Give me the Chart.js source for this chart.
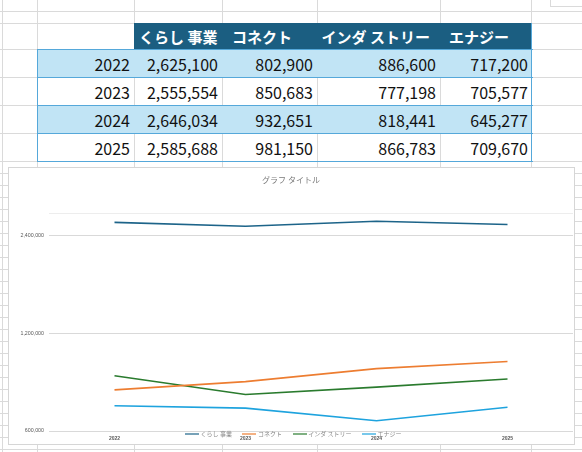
<!DOCTYPE html>
<html><head><meta charset="utf-8">
<script src="https://cdn.jsdelivr.net/npm/chart.js@4"></script>
<style>
html,body{margin:0;padding:0;background:#fff;}
#page{position:relative;width:582px;height:452px;overflow:hidden;background:#fff;font-family:"Noto Sans CJK JP","Noto Sans",sans-serif;}
.gl{position:absolute;background:#dadada;}
.fill{position:absolute;}
.bd{position:absolute;background:#55a8da;}
.cell{position:absolute;display:flex;align-items:center;box-sizing:border-box;white-space:nowrap;}
.num{justify-content:flex-end;padding-right:4px;font-size:16px;color:#111;}
.hdr{justify-content:flex-start;font-size:15px;font-weight:700;color:#fff;}
#chartBox{position:absolute;left:8px;top:167px;width:567px;height:278px;box-sizing:border-box;border:1px solid #d6d6d6;background:#fff;}
#chartBox canvas{position:absolute;left:0;top:0;}
#legend{position:absolute;left:185px;top:429px;height:9px;display:flex;align-items:center;gap:10.5px;font-size:6px;color:#8a8a8a;white-space:nowrap;}
#legend .it{display:flex;align-items:center;}
#legend .ln{display:inline-block;width:14px;height:2px;margin-right:1.6px;opacity:0.6;}
</style></head>
<body><div id="page">
<div id="sheet"></div>
<div id="chartBox"><canvas id="c" width="565" height="276"></canvas></div>
<div id="legend"></div>
</div>
<script>
// ---- data ----
const categories = ['2022', '2023', '2024', '2025'];
const seriesNames = ['くらし 事業', 'コネクト', 'インダ ストリー', 'エナジー'];
const kurashi = [2625100, 2555554, 2646034, 2585688];
const connect = [802900, 850683, 932651, 981150];
const industry = [886600, 777198, 818441, 866783];
const energy = [717200, 705577, 645277, 709670];
const yTicks = [600000, 1200000, 2400000];
const yMin = 600000;
const yMax = 2800000;
const chartTitle = 'グラフ タイトル';

// ---- styles ----
const seriesColors = ['#1d6489', '#ed7d31', '#2a7b2e', '#1ea3de'];
const seriesValues = [kurashi, connect, industry, energy];

// ---- spreadsheet background ----
const sheet = document.getElementById('sheet');
function div(cls, l, t, w, h, extra) {
  const d = document.createElement('div');
  d.className = cls;
  d.style.left = l + 'px'; d.style.top = t + 'px';
  d.style.width = w + 'px'; d.style.height = h + 'px';
  if (extra) Object.assign(d.style, extra);
  sheet.appendChild(d);
  return d;
}
const colX = [2, 37, 134, 222, 317, 440, 531];
const rowY = [11, 23, 49, 77, 105, 133, 161];
for (let y = 173; y < 452; y += 12) rowY.push(y);
colX.forEach(x => div('gl', x, 0, 1, 452));
rowY.forEach(y => div('gl', 0, y, 582, 1));
// object edge at top right
div('gl', 550, 0, 1, 6); div('gl', 550, 6, 32, 1);

// table
const tLeft = 37, tRight = 532, hdrTop = 23, bodyTop = 49, rowH = 28;
div('fill', 134, hdrTop, tRight - 134, bodyTop - hdrTop, {background: '#1b5e81'});
const hdrPad = [5, 10, 4.5, 9];
seriesNames.forEach((n, i) => {
  const d = div('cell hdr', colX[i + 2], hdrTop, colX[i + 3] - colX[i + 2] + 40, bodyTop - hdrTop, {paddingLeft: hdrPad[i] + 'px'});
  d.textContent = n;
});
categories.forEach((c, r) => {
  const top = bodyTop + r * rowH;
  if (r % 2 === 0) div('fill', tLeft, top, tRight - tLeft, rowH, {background: '#c1e4f5'});
});
categories.forEach((c, r) => {
  const top = bodyTop + r * rowH;
  const vals = [c].concat(seriesValues.map(s => s[r].toLocaleString('en-US')));
  vals.forEach((v, j) => {
    const l = colX[j + 1], w = (j === 4 ? tRight : colX[j + 2]) - l;
    const d = div('cell num', l, top + 1, w, rowH);
    d.textContent = v;
  });
});
for (let r = 0; r <= categories.length; r++) div('bd', tLeft, bodyTop + r * rowH, tRight - tLeft + 1, 1);
div('bd', tLeft, bodyTop, 1, rowH * categories.length + 1);
div('bd', 531, hdrTop, 1, bodyTop - hdrTop + rowH * categories.length + 1);

// ---- legend ----
const legend = document.getElementById('legend');
seriesNames.forEach((n, i) => {
  const it = document.createElement('span'); it.className = 'it';
  const ln = document.createElement('span'); ln.className = 'ln'; ln.style.background = seriesColors[i];
  const tx = document.createElement('span'); tx.textContent = n;
  it.appendChild(ln); it.appendChild(tx); legend.appendChild(it);
});

// ---- chart ----
new Chart(document.getElementById('c'), {
  type: 'line',
  data: {
    labels: categories,
    datasets: seriesNames.map((n, i) => ({
      label: n, data: seriesValues[i], borderColor: seriesColors[i], backgroundColor: seriesColors[i],
      borderWidth: 1.6, pointRadius: 0, tension: 0, fill: false
    }))
  },
  options: {
    responsive: false, animation: false,
    layout: {padding: {left: 0, right: 1, top: 0, bottom: 0}},
    plugins: {
      legend: {display: false},
      tooltip: {enabled: false},
      title: {display: true, text: chartTitle, color: '#7a7a7a',
        font: {family: 'Noto Sans CJK JP', size: 8, weight: 'normal', lineHeight: 1.2},
        padding: {top: 7, bottom: 28.7}}
    },
    scales: {
      x: {
        offset: true,
        grid: {display: false, drawTicks: false},
        border: {display: false},
        ticks: {padding: 5, color: '#595959', maxRotation: 0, autoSkip: false,
          font: {family: 'Liberation Sans', size: 5, weight: 'bold'}},
        afterFit(s) { s.height = 13; }
      },
      y: {
        type: 'logarithmic', min: yMin, max: yMax,
        border: {display: false},
        grid: {drawTicks: false, lineWidth: 1,
          color: ctx => (ctx.tick && ctx.tick.value === yMax) ? '#ededed' : '#d9d9d9'},
        ticks: {padding: 5, color: '#595959',
          font: {family: 'Liberation Sans', size: 5.3},
          callback: v => yTicks.includes(v) ? v.toLocaleString('en-US') : ''},
        afterBuildTicks(s) { s.ticks = yTicks.concat([yMax]).map(v => ({value: v})); },
        afterFit(s) { s.width = 40; }
      }
    }
  }
});
</script>
</body></html>
